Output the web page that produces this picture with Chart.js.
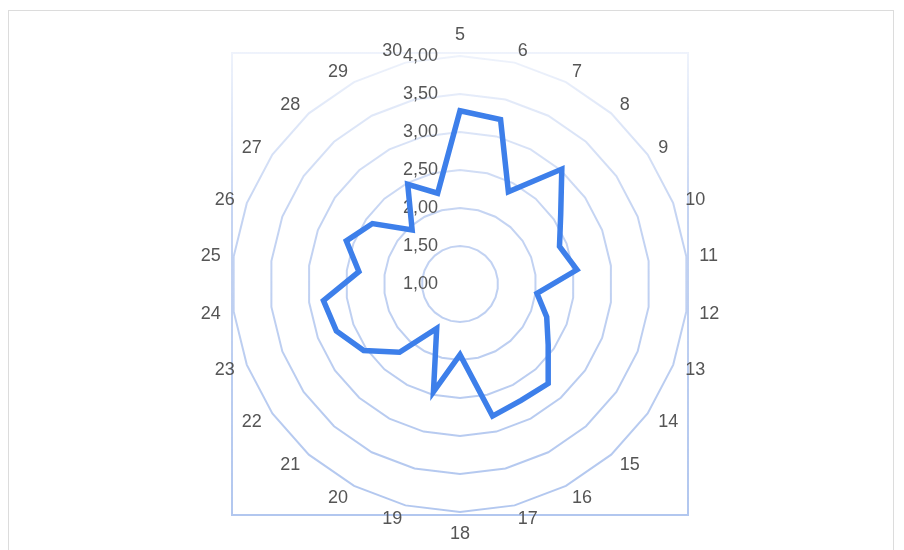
<!DOCTYPE html>
<html>
<head>
<meta charset="utf-8">
<script src="https://cdn.jsdelivr.net/npm/chart.js@4/dist/chart.umd.min.js"></script>
<style>
  html, body { margin: 0; padding: 0; background: #ffffff; }
  #frame { position: absolute; left: 8px; top: 10px; width: 884px; height: 600px; border: 1px solid #dcdcdc; }
  #chart { position: absolute; left: 0; top: 0; }
</style>
</head>
<body>
<div id="frame"></div>
<canvas id="chart" width="904" height="550"></canvas>
<script>
// Categories around the radar (clockwise from the top)
const categories = ['5','6','7','8','9','10','11','12','13','14','15','16','17','18',
                    '19','20','21','22','23','24','25','26','27','28','29','30'];
// Series values, one per category
const seriesValues = [3.28, 3.23, 2.37, 3.02, 2.61, 2.40, 2.55, 2.02, 2.22, 2.41, 2.75, 2.73, 2.79,
                      1.93, 2.46, 1.66, 2.20, 2.54, 2.74, 2.81, 2.34, 2.60, 2.40, 1.95, 2.48, 2.23];
// Radial axis range and step
const axisMin = 1;
const axisMax = 4;
const axisStep = 0.5;

const FONT = '18px "Liberation Sans", Arial, sans-serif';
const TEXT_COLOR = '#555555';

const canvas = document.getElementById('chart');
const ctx0 = canvas.getContext('2d');

// Grid strokes fade out towards the top of the plot
const gridGradient = ctx0.createLinearGradient(0, 53, 0, 515);
gridGradient.addColorStop(0, 'rgba(200,214,243,0.3)');
gridGradient.addColorStop(0.35, 'rgba(190,207,241,0.9)');
gridGradient.addColorStop(1, 'rgba(178,199,239,1)');

const fmt = v => v.toFixed(2).replace('.', ',');

// Border around the plotting area
const areaBorder = {
  id: 'areaBorder',
  beforeDatasetsDraw(chart) {
    const { ctx, chartArea: a } = chart;
    ctx.save();
    ctx.strokeStyle = gridGradient;
    ctx.lineWidth = 2;
    ctx.strokeRect(a.left, a.top, a.right - a.left, a.bottom - a.top);
    ctx.restore();
  }
};

// Value labels left of the vertical axis, and category labels around the rim
const radarLabels = {
  id: 'radarLabels',
  beforeDatasetsDraw(chart) {
    const { ctx } = chart;
    const scale = chart.scales.r;
    ctx.save();
    ctx.font = FONT;
    ctx.fillStyle = TEXT_COLOR;

    ctx.textAlign = 'right';
    ctx.textBaseline = 'middle';
    scale.ticks.forEach(t => {
      const r = scale.getDistanceFromCenterForValue(t.value);
      ctx.fillText(fmt(t.value), scale.xCenter - 22, scale.yCenter - r);
    });

    chart.data.labels.forEach((lab, i) => {
      const p = scale.getPointPosition(i, scale.drawingArea + 13);
      const dx = p.x - scale.xCenter;
      ctx.textBaseline = 'middle';
      let y = p.y;
      if (Math.abs(dx) < 1) {
        ctx.textAlign = 'center';
        ctx.textBaseline = p.y < scale.yCenter ? 'bottom' : 'top';
        y = p.y < scale.yCenter ? p.y + 1 : p.y;
      } else {
        ctx.textAlign = dx > 0 ? 'left' : 'right';
        y = p.y + 1;
      }
      ctx.fillText(lab, p.x, y);
    });
    ctx.restore();
  }
};

new Chart(canvas, {
  type: 'radar',
  data: {
    labels: categories,
    datasets: [{
      data: seriesValues,
      borderColor: '#3d7fea',
      borderWidth: 5.5,
      borderJoinStyle: 'miter',
      fill: false,
      tension: 0,
      pointRadius: 0,
      pointHoverRadius: 0
    }]
  },
  options: {
    responsive: false,
    animation: false,
    layout: { padding: { left: 232, right: 216, top: 53, bottom: 35 } },
    plugins: {
      legend: { display: false },
      tooltip: { enabled: false }
    },
    scales: {
      r: {
        min: axisMin,
        max: axisMax,
        ticks: { stepSize: axisStep, display: false },
        pointLabels: { display: false },
        angleLines: { display: false },
        grid: { color: gridGradient, lineWidth: 2 }
      }
    }
  },
  plugins: [areaBorder, radarLabels]
});
</script>
</body>
</html>
